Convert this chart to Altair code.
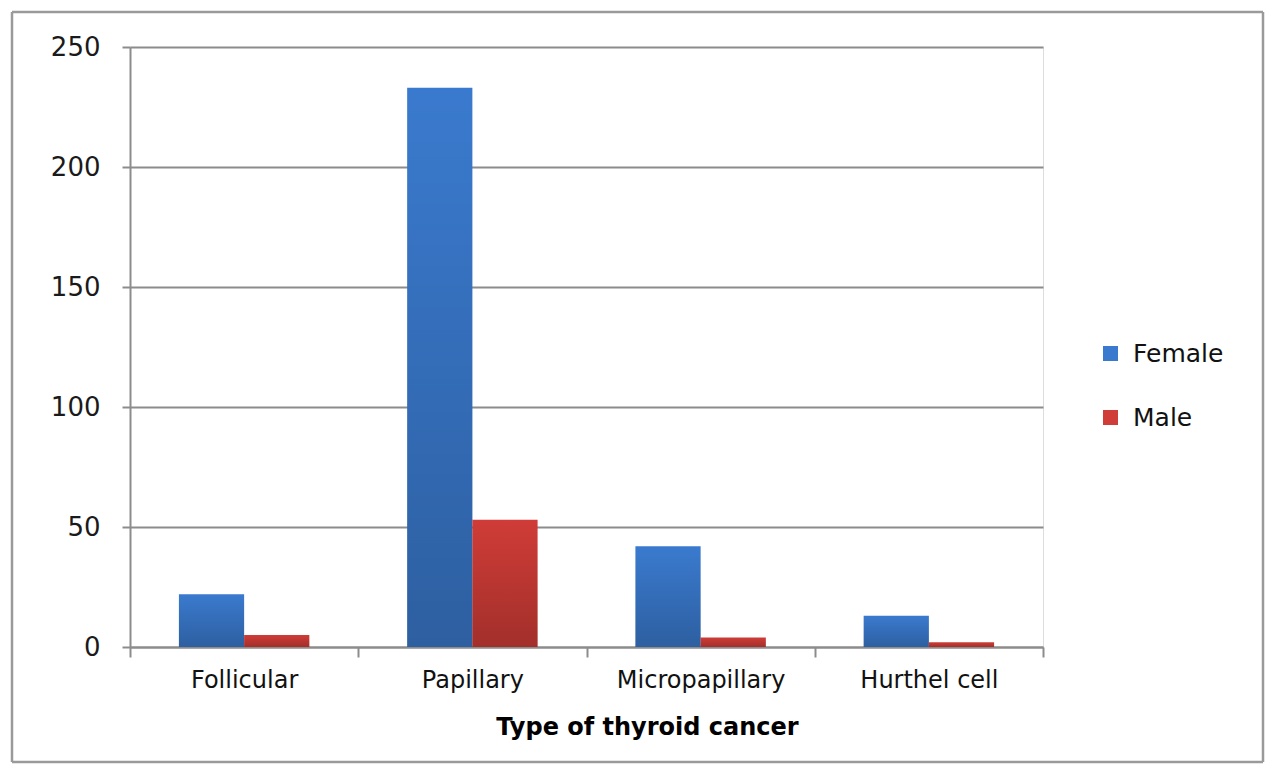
import altair as alt
import pandas as pd

CANCER_TYPES = ["Follicular", "Papillary", "Micropapillary", "Hurthel cell"]
FEMALE = [22, 233, 42, 13]
MALE = [5, 53, 4, 2]
SEXES = ["Female", "Male"]
SEX_COLORS = ["#3a7ace", "#d03c37"]

rows = []
for i, t in enumerate(CANCER_TYPES):
    rows.append({"Type": t, "Sex": "Female", "Count": FEMALE[i]})
    rows.append({"Type": t, "Sex": "Male", "Count": MALE[i]})
df = pd.DataFrame(rows)

FONT = "DejaVu Sans"
GRAY = "#8c8c8c"

x_enc = alt.X(
    "Type:N",
    sort=CANCER_TYPES,
    scale=alt.Scale(paddingInner=0, paddingOuter=0),
    axis=alt.Axis(
        title="Type of thyroid cancer",
        titleFont=FONT,
        titleFontSize=24,
        titleFontWeight="bold",
        titleColor="#000000",
        titleX=517,
        titleY=80,
        titleAlign="center",
        titleBaseline="middle",
        labelFont=FONT,
        labelFontSize=24,
        labelColor="#111111",
        labelAngle=0,
        labelPadding=11,
        tickBand="extent",
        tickSize=10,
        tickColor=GRAY,
        tickWidth=2,
        domainColor=GRAY,
        domainWidth=2,
        grid=False,
    ),
)
y_enc = alt.Y(
    "Count:Q",
    scale=alt.Scale(domain=[0, 250]),
    axis=alt.Axis(
        title=None,
        values=[0, 50, 100, 150, 200, 250],
        labelFont=FONT,
        labelFontSize=26,
        labelColor="#1a1a1a",
        labelPadding=22,
        tickSize=8,
        tickColor=GRAY,
        tickWidth=2,
        domainColor=GRAY,
        domainWidth=2,
        gridColor=GRAY,
        gridWidth=2,
    ),
)
xoff = alt.XOffset("Sex:N", sort=SEXES, scale=alt.Scale(paddingOuter=0.75, paddingInner=0))

bars = alt.Chart(df).mark_bar().encode(
    x=x_enc,
    y=y_enc,
    xOffset=xoff,
    color=alt.Color(
        "Sex:N",
        sort=SEXES,
        scale=alt.Scale(domain=SEXES, range=SEX_COLORS),
        legend=alt.Legend(
            title=None,
            orient="none",
            legendX=968,
            legendY=294,
            padding=0,
            symbolType="square",
            symbolSize=225,
            symbolStrokeWidth=0,
            labelFont=FONT,
            labelFontSize=25,
            labelColor="#111111",
            labelOffset=10,
            rowPadding=38,
        ),
    ),
)

# darker toward the base, like the original's shaded bars
shade = alt.Chart(df).mark_bar(
    color=alt.LinearGradient(
        gradient="linear",
        x1=0, y1=0, x2=0, y2=1,
        stops=[
            alt.GradientStop(color="rgba(0,0,0,0)", offset=0),
            alt.GradientStop(color="rgba(0,0,0,0.22)", offset=1),
        ],
    )
).encode(x=x_enc, y=y_enc, xOffset=xoff)

# outer frame drawn as four rules
frame_df = pd.DataFrame({"k": ["top", "bottom", "left", "right"]})
frame_top = alt.Chart(frame_df.iloc[[0]]).mark_rule(color="#9a9a9a", strokeWidth=2.5, clip=False).encode(
    x=alt.value(-118), x2=alt.value(1133), y=alt.value(-35)
)
frame_bottom = alt.Chart(frame_df.iloc[[1]]).mark_rule(color="#9a9a9a", strokeWidth=2.5, clip=False).encode(
    x=alt.value(-118), x2=alt.value(1133), y=alt.value(715)
)
frame_left = alt.Chart(frame_df.iloc[[2]]).mark_rule(color="#9a9a9a", strokeWidth=2.5, clip=False).encode(
    x=alt.value(-118), y=alt.value(-35), y2=alt.value(715)
)
frame_right = alt.Chart(frame_df.iloc[[3]]).mark_rule(color="#9a9a9a", strokeWidth=2.5, clip=False).encode(
    x=alt.value(1133), y=alt.value(-35), y2=alt.value(715)
)

chart = alt.layer(bars, shade, frame_top, frame_bottom, frame_left, frame_right).properties(
    width=913,
    height=600,
    autosize=alt.AutoSizeParams(type="none"),
    padding={"left": 122, "top": 39, "right": 229, "bottom": 125},
).configure_view(stroke="transparent", strokeWidth=0).configure_axisX(grid=False).configure(background="white")

chart.save("out.html", embed_options={"renderer": "svg", "actions": False})
